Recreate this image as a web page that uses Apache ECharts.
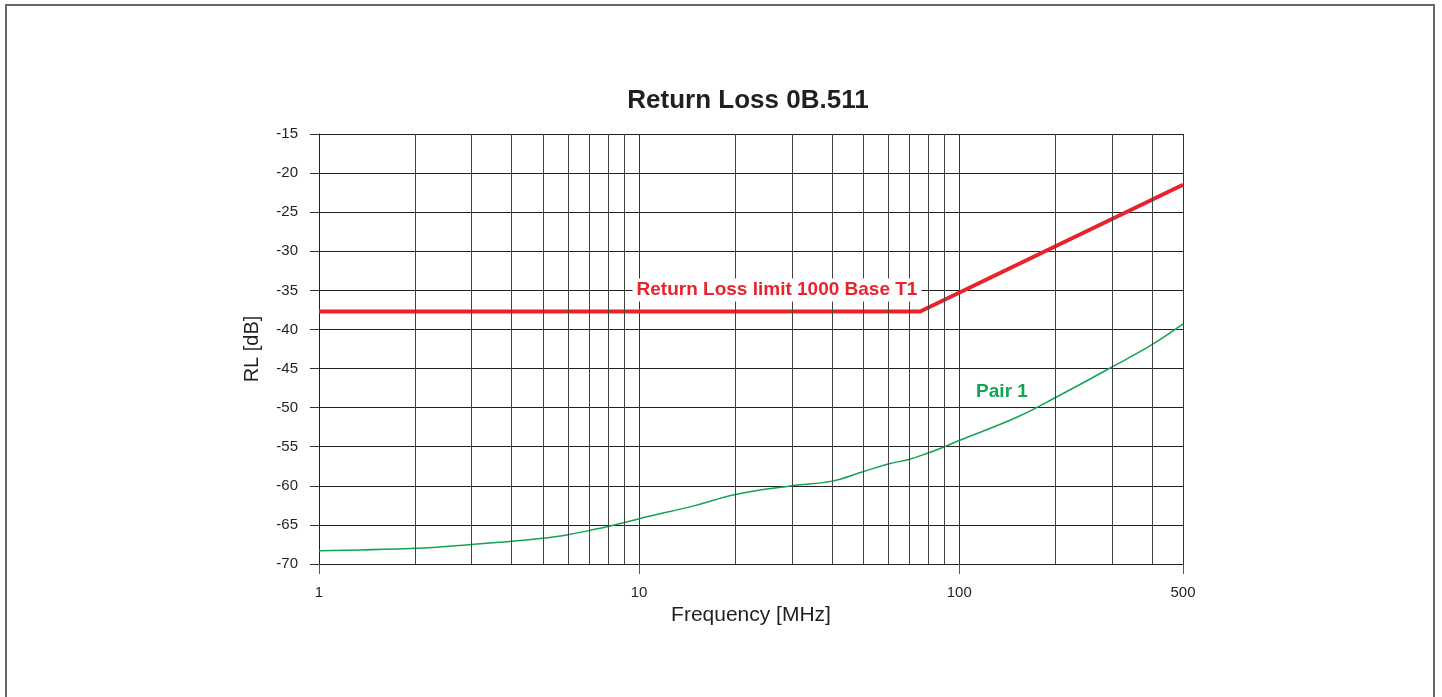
<!DOCTYPE html>
<html>
<head>
<meta charset="utf-8">
<script src="https://cdn.jsdelivr.net/npm/echarts@6/dist/echarts.min.js"></script>
<style>
html,body{margin:0;padding:0;background:#fff;}
#chart{width:1442px;height:697px;}
</style>
</head>
<body>
<div id="chart"></div>
<script>
// ---- data ----
const titleText = 'Return Loss 0B.511';
const xName = 'Frequency [MHz]';
const yName = 'RL [dB]';
const limitName = 'Return Loss limit 1000 Base T1';
const pairName = 'Pair 1';

const pairFreq = [1, 2, 3, 4, 5, 6, 7, 8, 9, 10, 15, 20, 30, 40, 50, 60, 70, 80, 90, 100, 150, 200, 300, 400, 500];
const pairRL   = [-68.3, -68.0, -67.5, -67.1, -66.7, -66.25, -65.7, -65.2, -64.7, -64.2, -62.5, -61.1, -60.0, -59.4, -58.2, -57.2, -56.6, -55.8, -55.0, -54.2, -51.3, -48.7, -44.8, -41.95, -39.3];

const limitFreq = [1, 75.5, 500];
const limitRL   = [-37.7, -37.7, -21.5];

const minorGridFreq = [2, 3, 4, 5, 6, 7, 8, 9, 20, 30, 40, 50, 60, 70, 80, 90, 200, 300, 400];

const yMin = -70, yMax = -15, yStep = 5;
const xMin = 1, xMax = 500;

// ---- chart ----
const FONT = '"Liberation Sans", Arial, Helvetica, sans-serif';
const chart = echarts.init(document.getElementById('chart'), null, {renderer: 'canvas'});

const zip = (a, b) => a.map((v, i) => [v, b[i]]);

chart.setOption({
  animation: false,
  backgroundColor: '#fff',
  title: {
    text: titleText,
    left: 743,
    textAlign: 'center',
    top: 83,
    textStyle: {fontFamily: FONT, fontSize: 26, fontWeight: 'bold', color: '#231f20'}
  },
  grid: {left: 319, right: 259, top: 134, bottom: 133, containLabel: false},
  xAxis: {
    type: 'log',
    logBase: 10,
    min: xMin,
    max: xMax,
    name: xName,
    nameLocation: 'middle',
    nameGap: 35,
    nameTextStyle: {fontFamily: FONT, fontSize: 21, color: '#231f20'},
    axisLine: {show: true, lineStyle: {color: '#231f20', width: 1}},
    axisTick: {show: true, length: 10, lineStyle: {color: '#555', width: 1}},
    axisLabel: {fontFamily: FONT, fontSize: 15, color: '#231f20', margin: 21},
    splitLine: {show: true, lineStyle: {color: '#333', width: 1}},
    minorTick: {show: false},
    minorSplitLine: {show: false}
  },
  yAxis: {
    type: 'value',
    min: yMin,
    max: yMax,
    interval: yStep,
    name: yName,
    nameLocation: 'middle',
    nameGap: 57,
    nameTextStyle: {fontFamily: FONT, fontSize: 20, color: '#231f20'},
    axisLine: {show: true, lineStyle: {color: '#231f20', width: 1}},
    axisTick: {show: true, length: 9, lineStyle: {color: '#333', width: 1}},
    axisLabel: {fontFamily: FONT, fontSize: 15, color: '#231f20', margin: 21},
    splitLine: {show: true, lineStyle: {color: '#231f20', width: 1}}
  },
  series: [
    {
      name: 'grid',
      type: 'line',
      data: [],
      z: 1,
      silent: true,
      markLine: {
        silent: true,
        symbol: 'none',
        label: {show: false},
        lineStyle: {color: '#444', width: 1, type: 'solid'},
        emphasis: {disabled: true},
        data: minorGridFreq.map(v => ({xAxis: v}))
      }
    },
    {
      name: pairName,
      type: 'line',
      data: zip(pairFreq, pairRL),
      smooth: 0.4,
      showSymbol: false,
      z: 3,
      lineStyle: {color: '#10a554', width: 1.5},
      itemStyle: {color: '#10a554'}
    },
    {
      name: limitName,
      type: 'line',
      data: zip(limitFreq, limitRL),
      showSymbol: false,
      z: 4,
      lineStyle: {color: '#e8232b', width: 4},
      itemStyle: {color: '#e8232b'}
    }
  ],
  graphic: [
    {
      type: 'rect',
      silent: true,
      shape: {x: 6, y: 5, width: 1428, height: 720},
      style: {fill: 'none', stroke: '#666', lineWidth: 2},
      z: 0
    },
    {
      type: 'text',
      silent: true,
      x: 777,
      y: 290,
      z: 10,
      style: {
        text: limitName,
        fontFamily: FONT,
        fontSize: 19,
        fontWeight: 'bold',
        fill: '#e8232b',
        align: 'center',
        verticalAlign: 'middle',
        backgroundColor: '#fff',
        padding: [2, 4]
      }
    },
    {
      type: 'text',
      silent: true,
      x: 1002,
      y: 392,
      z: 10,
      style: {
        text: pairName,
        fontFamily: FONT,
        fontSize: 19,
        fontWeight: 'bold',
        fill: '#10a554',
        align: 'center',
        verticalAlign: 'middle'
      }
    }
  ]
});
</script>
</body>
</html>
